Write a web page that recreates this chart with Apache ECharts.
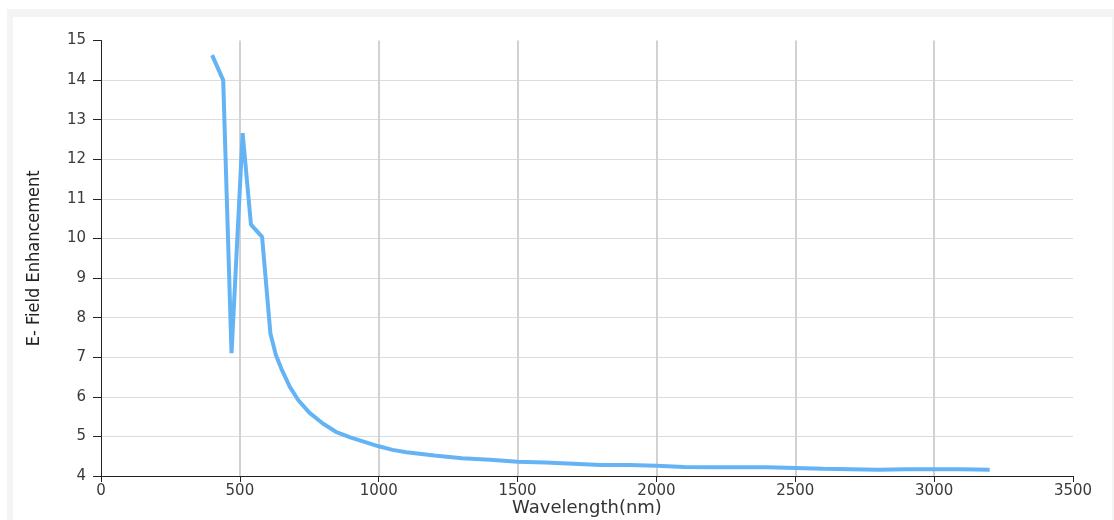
<!DOCTYPE html>
<html>
<head>
<meta charset="utf-8">
<script src="https://cdn.jsdelivr.net/npm/echarts@6/dist/echarts.min.js"></script>
<style>
  html, body { margin: 0; padding: 0; background: #ffffff; }
  #frame { position: absolute; left: 7px; top: 9px; width: 1107px; height: 511px; background: #f4f4f4; }
  #panel { position: absolute; left: 13px; top: 17px; width: 1099px; height: 503px; background: #ffffff; }
  #chart { position: absolute; left: 0; top: 0; width: 1114px; height: 520px; }
</style>
</head>
<body>
<div id="frame"></div>
<div id="panel"></div>
<div id="chart"></div>
<script>
// Wavelength (nm)
const wavelengths = [400, 440, 470, 510, 540, 580, 610, 630, 650, 680, 710, 750, 800, 850, 900, 1000, 1050, 1100, 1200, 1300, 1400, 1500, 1600, 1700, 1800, 1900, 2000, 2100, 2200, 2300, 2400, 2500, 2600, 2700, 2800, 2900, 3000, 3100, 3200];
// E-field enhancement
const enhancement = [14.63, 14.0, 7.1, 12.66, 10.35, 10.04, 7.6, 7.05, 6.7, 6.25, 5.92, 5.6, 5.32, 5.1, 4.97, 4.75, 4.66, 4.6, 4.52, 4.45, 4.41, 4.36, 4.34, 4.31, 4.28, 4.28, 4.26, 4.23, 4.22, 4.22, 4.22, 4.2, 4.18, 4.17, 4.16, 4.17, 4.17, 4.17, 4.16];
const xAxisTitle = 'Wavelength(nm)';
const yAxisTitle = 'E- Field Enhancement';

const seriesData = wavelengths.map((w, i) => [w, enhancement[i]]);

const chart = echarts.init(document.getElementById('chart'), null, { renderer: 'canvas' });
chart.setOption({
  backgroundColor: 'transparent',
  animation: false,
  grid: { left: 101, right: 41, top: 40.5, bottom: 44, containLabel: false, outerBoundsMode: 'none' },
  xAxis: {
    type: 'value',
    min: 0, max: 3500, interval: 500,
    name: xAxisTitle,
    nameLocation: 'middle',
    nameGap: 23,
    nameMoveOverlap: false,
    nameTextStyle: { fontFamily: 'DejaVu Sans', fontSize: 18, color: '#333', verticalAlign: 'top' },
    axisLine: { show: true, onZero: false, lineStyle: { color: '#222', width: 1 } },
    axisTick: { show: true, length: 6, lineStyle: { color: '#222' } },
    axisLabel: { margin: 8, fontFamily: 'DejaVu Sans', fontSize: 15, color: '#3a3a3a', formatter: v => String(v) },
    splitLine: { show: true, showMinLine: false, showMaxLine: false, lineStyle: { color: '#d2d2d2', width: 2 } }
  },
  yAxis: {
    type: 'value',
    min: 4, max: 15, interval: 1,
    name: yAxisTitle,
    nameLocation: 'middle',
    nameGap: 58,
    nameMoveOverlap: false,
    nameRotate: 90,
    nameTextStyle: { fontFamily: "'DejaVu Sans Condensed', 'Liberation Sans Narrow', 'DejaVu Sans'", fontSize: 18, color: '#222' },
    axisLine: { show: true, lineStyle: { color: '#222', width: 1 } },
    axisTick: { show: true, length: 8, lineStyle: { color: '#222' } },
    axisLabel: { margin: 15, fontFamily: 'DejaVu Sans', fontSize: 15, color: '#3a3a3a', formatter: v => String(v) },
    splitLine: { show: true, showMinLine: false, showMaxLine: false, lineStyle: { color: '#dcdcdc', width: 1 } }
  },
  series: [{
    type: 'line',
    data: seriesData,
    showSymbol: false,
    symbol: 'none',
    smooth: false,
    lineStyle: { color: '#64b4f5', width: 4 },
    itemStyle: { color: '#64b4f5' }
  }]
});
</script>
</body>
</html>
